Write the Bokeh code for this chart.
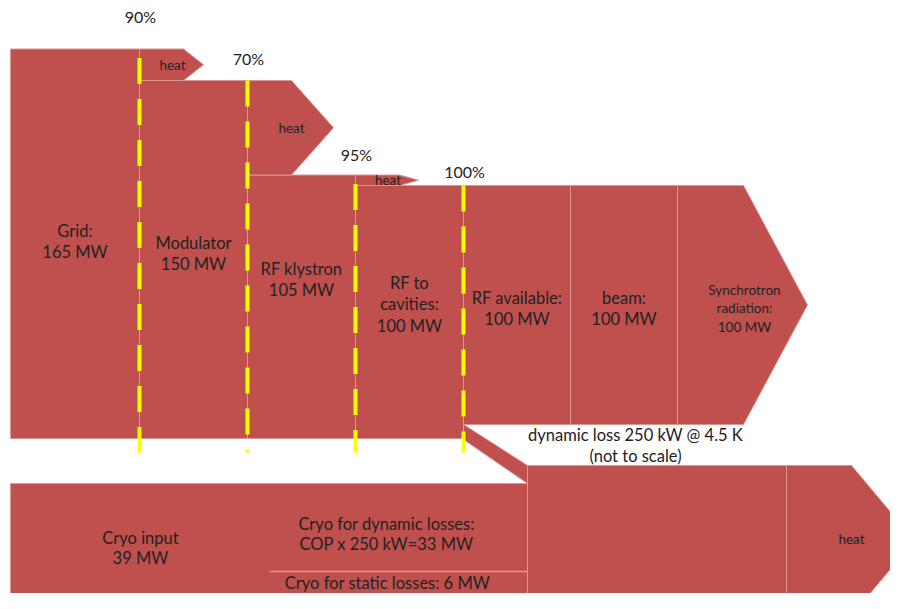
from bokeh.plotting import figure
from bokeh.models import Range1d
from bokeh.core.properties import value
from bokeh.embed import file_html
from bokeh.resources import INLINE

# ---------------- data ----------------
stage_names = [["Grid:"], ["Modulator"], ["RF klystron"], ["RF to", "cavities:"],
               ["RF available:"], ["beam:"], ["Synchrotron", "radiation:"]]
stage_mw = [165, 150, 105, 100, 100, 100, 100]
efficiencies = ["90%", "70%", "95%", "100%"]
heat_label = "heat"
loss_lines = ["dynamic loss 250 kW @ 4.5 K", "(not to scale)"]
cryo_input_mw = 39
cryo_dynamic_mw = 33
cryo_static_mw = 6
cryo_dynamic_text = ["Cryo for dynamic losses:", "COP x 250 kW=33 MW"]
cryo_static_text = "Cryo for static losses: 6 MW"

# ---------------- layout / style ----------------
W, H = 890, 593
FILL = "#C0504D"
EDGE = "#D99694"
TEXT = "#222222"
FONT = "Lato"
YELLOW = "#FFFF00"

# vertical scale of the main flow (MW -> drawing units)
Y0, K = 395.0, 2.1
def ytop(mw):
    return Y0 - K * mw

BAND_BOT = 438          # bottom of the upstream part of the main band
OUT_BOT = 424           # bottom after the dynamic-loss branch leaves
COL_X = [10, 139, 247, 355, 463, 570, 677]   # column edges of the stages
HEAT_FLAT = 44
HEAT_TIP = [20, 42, 19]
SYN_FLAT, SYN_TIP = 66, 64
LABEL_Y = [230, 242, 268, 282, 297, 297, 289]
PCT_Y = [16, 58, 154, 171]
LINE_OFF = [9, 0, 9, 0]
LINE_BOT = 452

CRYO_TOP = 483
KC = 88.0 / 33.0        # cryo scale (drawn not to scale vs. main flow)
LOSS_THICK = 18
CRYO_LEFT, CRYO_RIGHT = 10, 527
SPLIT_LEFT = 269
HEAT_BLOCK_RIGHT = 786
BOTTOM = 615

p = figure(width=W, height=H, x_range=Range1d(0, W), y_range=Range1d(H, 0),
           output_backend="svg", toolbar_location=None, min_border=0,
           x_axis_type=None, y_axis_type=None)
p.grid.visible = False
p.outline_line_color = None
p.background_fill_color = "white"
p.border_fill_color = "white"

xs, ys = [], []

# dynamic loss diagonal branch (drawn first, under the blocks)
x_out = COL_X[4]
xs.append([x_out, CRYO_RIGHT, CRYO_RIGHT, x_out])
ys.append([OUT_BOT, CRYO_TOP - LOSS_THICK, CRYO_TOP, BAND_BOT + 1])

# stage blocks
for i in range(7):
    x0 = COL_X[i]
    top = ytop(stage_mw[i])
    if i < 4:
        x1 = COL_X[i + 1]
        bot = BAND_BOT
        xs.append([x0, x1, x1, x0])
        ys.append([top, top, bot, bot])
    elif i < 6:
        x1 = COL_X[i + 1]
        bot = OUT_BOT
        xs.append([x0, x1, x1, x0])
        ys.append([top, top, bot, bot])
    else:
        bot = OUT_BOT
        xf = x0 + SYN_FLAT
        xt = xf + SYN_TIP
        mid = (top + bot) / 2
        xs.append([x0, xf, xt, xf, x0])
        ys.append([top, top, mid, bot, bot])

# heat arrows between stages
for i in range(3):
    x0 = COL_X[i + 1]
    top = ytop(stage_mw[i])
    bot = ytop(stage_mw[i + 1])
    xf = x0 + HEAT_FLAT
    xt = xf + HEAT_TIP[i]
    mid = (top + bot) / 2
    xs.append([x0, xf, xt, xf, x0])
    ys.append([top, top, mid, bot, bot])

# cryo block
cryo_bot = BOTTOM
xs.append([CRYO_LEFT, CRYO_RIGHT, CRYO_RIGHT, CRYO_LEFT])
ys.append([CRYO_TOP, CRYO_TOP, cryo_bot, cryo_bot])

# combined heat block and arrow
hb_top = CRYO_TOP - LOSS_THICK
xs.append([CRYO_RIGHT, HEAT_BLOCK_RIGHT, HEAT_BLOCK_RIGHT, CRYO_RIGHT])
ys.append([hb_top, hb_top, BOTTOM, BOTTOM])
hx_f = HEAT_BLOCK_RIGHT + 65
hx_t = hx_f + 63
hmid = (hb_top + BOTTOM) / 2
xs.append([HEAT_BLOCK_RIGHT, hx_f, hx_t, hx_f, HEAT_BLOCK_RIGHT])
ys.append([hb_top, hb_top, hmid, BOTTOM, BOTTOM])

p.patches(xs, ys, fill_color=FILL, line_color=EDGE, line_width=1)

# split line cryo dynamic / static
split_y = CRYO_TOP + cryo_dynamic_mw * KC
p.segment(x0=[SPLIT_LEFT], y0=[split_y], x1=[CRYO_RIGHT], y1=[split_y],
          line_color=EDGE, line_width=1.5)

# yellow dashed efficiency lines
lx, ly = [], []
for j in range(4):
    x = COL_X[j + 1]
    lx.append([x, x])
    ly.append([ytop(stage_mw[j]) + LINE_OFF[j], LINE_BOT])
p.multi_line(lx, ly, line_color=YELLOW, line_width=4, line_dash="26 15")

# ---------------- texts ----------------
def label(xv, yv, txt, size="16.5px"):
    p.text(x=xv, y=yv, text=txt, text_font=value(FONT), text_font_size=size,
           text_color=TEXT, text_align="center", text_baseline="middle")

# percentages
label([COL_X[j + 1] + 1 for j in range(4)], PCT_Y, efficiencies, "16px")

# stage labels
bx, by, bt = [], [], []
sx, sy, st = [], [], []
for i in range(7):
    if i < 6:
        cx = (COL_X[i] + COL_X[i + 1]) / 2
        lines = stage_names[i] + [f"{stage_mw[i]} MW"]
        for k, t in enumerate(lines):
            bx.append(cx); by.append(LABEL_Y[i] + 21.5 * k); bt.append(t)
    else:
        cx = COL_X[i] + SYN_FLAT + 1
        lines = stage_names[i] + [f"{stage_mw[i]} MW"]
        for k, t in enumerate(lines):
            sx.append(cx); sy.append(LABEL_Y[i] + 18.5 * k); st.append(t)
label(bx, by, bt)
label(sx, sy, st, "13.5px")

# heat labels
hx, hy = [], []
for i in range(3):
    x0 = COL_X[i + 1]
    xt = x0 + HEAT_FLAT + HEAT_TIP[i]
    hx.append((x0 + xt) / 2 + 1)
    hy.append((ytop(stage_mw[i]) + ytop(stage_mw[i + 1])) / 2)
hx.append((HEAT_BLOCK_RIGHT + hx_t) / 2 + 1)
hy.append(538)
label(hx, hy, [heat_label] * 4, "13.5px")

# dynamic loss text
label([635, 635], [434, 455], loss_lines)

# cryo texts
label([140, 140], [537, 557], ["Cryo input", f"{cryo_input_mw} MW"])
label([386, 386], [523, 543], cryo_dynamic_text)
label([387], [582], [cryo_static_text])

html = file_html(p, INLINE)
open("out.html", "w").write(html)
